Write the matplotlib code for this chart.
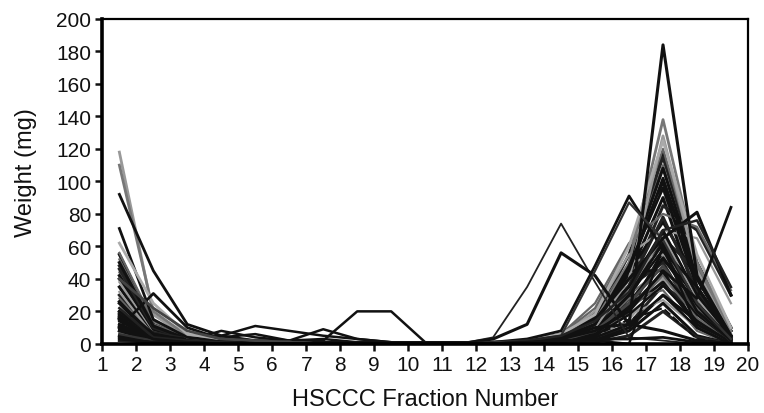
import numpy as np
import matplotlib.pyplot as plt

plt.rcParams['font.family'] = ['Liberation Sans', 'DejaVu Sans']

# fraction positions (midpoints of fractions 1..19)
fractions = [1.5, 2.5, 3.5, 4.5, 5.5, 6.5, 7.5, 8.5, 9.5, 10.5,
             11.5, 12.5, 13.5, 14.5, 15.5, 16.5, 17.5, 18.5, 19.5]

# weights (mg) per run
early_runs = [
    [118, 18, 4, 2, 1, 1, 0, 0, 0, 0, 0, 0, 1, 3, 10, 40, 128, 45, 6],
    [110, 20, 5, 2, 1, 0, 0, 0, 0, 0, 0, 1, 2, 5, 14, 50, 138, 50, 8],
    [92, 45, 12, 5, 2, 1, 1, 0, 0, 0, 0, 0, 1, 4, 12, 45, 102, 40, 5],
    [71, 15, 4, 2, 1, 0, 0, 0, 0, 0, 0, 0, 1, 3, 12, 48, 96, 35, 3],
    [62, 25, 6, 3, 1, 1, 0, 0, 0, 0, 0, 1, 2, 6, 18, 60, 125, 55, 10],
    [10, 31, 10, 3, 1, 1, 0, 0, 0, 0, 0, 0, 1, 3, 8, 30, 62, 25, 3],
    [40, 22, 8, 3, 2, 1, 0, 0, 0, 0, 0, 0, 1, 2, 8, 25, 48, 20, 2],
]
mid_runs = [
    [20, 5, 3, 5, 11, 8, 5, 3, 1, 1, 0, 0, 1, 3, 10, 30, 58, 35, 5],
    [15, 4, 2, 3, 2, 2, 9, 3, 1, 0, 0, 0, 1, 2, 6, 22, 44, 18, 2],
    [25, 6, 2, 1, 1, 1, 2, 20, 20, 1, 1, 1, 2, 5, 15, 35, 70, 30, 5],
    [12, 3, 2, 8, 4, 2, 1, 1, 0, 0, 0, 0, 1, 2, 5, 18, 36, 14, 1],
    [9, 3, 2, 4, 6, 2, 3, 1, 1, 0, 0, 0, 0, 1, 4, 12, 30, 10, 0],
]
late_runs = [
    [18, 6, 2, 1, 0, 0, 0, 0, 0, 0, 0, 0, 1, 3, 10, 12, 184, 42, 5],
    [3, 1, 1, 0, 0, 0, 0, 0, 0, 0, 0, 4, 35, 74, 38, 4, 2, 0, 0],
    [5, 2, 1, 1, 0, 0, 0, 0, 0, 0, 0, 3, 12, 56, 42, 12, 8, 2, 0],
    [8, 2, 1, 0, 0, 0, 0, 0, 0, 0, 0, 1, 3, 8, 48, 91, 58, 20, 2],
    [6, 2, 1, 0, 0, 0, 0, 0, 0, 0, 0, 1, 2, 5, 45, 87, 64, 25, 3],
    [12, 3, 1, 0, 0, 0, 0, 0, 0, 0, 0, 0, 1, 3, 8, 20, 45, 28, 84],
    [16, 4, 1, 1, 0, 0, 0, 0, 0, 0, 0, 0, 1, 4, 15, 40, 65, 81, 30],
    [22, 4, 2, 1, 0, 0, 0, 0, 0, 0, 0, 0, 2, 5, 14, 32, 70, 76, 35],
    [14, 3, 1, 0, 0, 0, 0, 0, 0, 0, 0, 0, 1, 2, 2, 0, 60, 10, 0],
    [3, 1, 1, 0, 0, 0, 0, 0, 0, 0, 0, 0, 1, 2, 3, 3, 4, 1, 0],
]
bulk_runs = [
    [55, 12, 4, 2, 1, 1, 0, 0, 0, 0, 0, 0, 1, 4, 12, 40, 118, 50, 10],
    [48, 9, 3, 1, 1, 0, 0, 0, 0, 0, 0, 1, 2, 5, 15, 55, 115, 45, 8],
    [44, 8, 3, 2, 1, 0, 0, 0, 0, 0, 0, 0, 2, 6, 18, 50, 110, 40, 5],
    [40, 6, 2, 1, 0, 0, 0, 0, 0, 0, 0, 0, 1, 3, 10, 45, 100, 35, 3],
    [38, 7, 2, 1, 0, 0, 0, 0, 0, 0, 0, 0, 1, 4, 20, 60, 95, 30, 2],
    [35, 5, 2, 1, 0, 0, 0, 0, 0, 0, 0, 0, 1, 3, 12, 42, 90, 28, 2],
    [30, 4, 2, 1, 0, 0, 0, 0, 0, 0, 0, 0, 1, 2, 8, 35, 85, 70, 30],
    [28, 5, 2, 1, 0, 0, 0, 0, 0, 0, 0, 0, 2, 6, 25, 62, 80, 72, 33],
    [25, 3, 1, 1, 0, 0, 0, 0, 0, 0, 0, 0, 1, 3, 15, 45, 75, 40, 5],
    [22, 4, 1, 1, 0, 0, 0, 0, 0, 0, 0, 0, 1, 5, 20, 55, 70, 65, 25],
    [20, 3, 1, 0, 0, 0, 0, 0, 0, 0, 0, 0, 1, 2, 10, 30, 68, 30, 3],
    [19, 2, 1, 0, 0, 0, 0, 0, 0, 0, 0, 0, 0, 2, 6, 28, 65, 45, 10],
    [18, 6, 2, 1, 0, 0, 0, 0, 0, 0, 0, 0, 1, 4, 14, 40, 60, 25, 0],
    [15, 3, 1, 0, 0, 0, 0, 0, 0, 0, 0, 0, 0, 1, 5, 20, 57, 35, 5],
    [12, 2, 1, 0, 0, 0, 0, 0, 0, 0, 0, 0, 1, 3, 12, 50, 55, 20, 2],
    [10, 2, 1, 0, 0, 0, 0, 0, 0, 0, 0, 0, 0, 2, 8, 25, 52, 30, 8],
    [8, 1, 1, 0, 0, 0, 0, 0, 0, 0, 0, 0, 1, 3, 10, 35, 50, 15, 0],
    [14, 3, 1, 0, 0, 0, 0, 0, 0, 0, 0, 0, 0, 2, 7, 30, 47, 22, 3],
    [26, 4, 2, 1, 0, 0, 0, 0, 0, 0, 0, 0, 1, 4, 18, 45, 45, 10, 0],
    [32, 5, 2, 1, 0, 0, 0, 0, 0, 0, 0, 0, 0, 1, 4, 15, 40, 18, 2],
    [42, 9, 3, 1, 0, 0, 0, 0, 0, 0, 0, 0, 1, 2, 6, 22, 38, 12, 0],
    [46, 10, 3, 1, 0, 0, 0, 0, 0, 0, 0, 0, 0, 1, 3, 12, 36, 20, 4],
    [52, 12, 4, 2, 1, 0, 0, 0, 0, 0, 0, 0, 1, 3, 8, 28, 33, 8, 0],
    [16, 3, 1, 0, 0, 0, 0, 0, 0, 0, 0, 0, 0, 1, 2, 10, 30, 14, 1],
    [6, 1, 1, 0, 0, 0, 0, 0, 0, 0, 0, 0, 0, 1, 5, 18, 27, 10, 0],
    [4, 1, 1, 0, 0, 0, 0, 0, 0, 0, 0, 0, 0, 0, 2, 8, 25, 5, 0],
    [2, 1, 0, 0, 0, 0, 0, 0, 0, 0, 0, 0, 0, 0, 1, 5, 20, 4, 0],
    [56, 14, 4, 2, 1, 0, 0, 0, 0, 0, 0, 1, 2, 6, 22, 60, 120, 48, 6],
    [50, 11, 3, 1, 1, 0, 0, 0, 0, 0, 0, 0, 1, 4, 16, 48, 108, 42, 4],
    [13, 5, 2, 1, 0, 0, 0, 0, 0, 0, 0, 0, 1, 3, 9, 33, 66, 28, 2],
    [11, 4, 1, 1, 0, 0, 0, 0, 0, 0, 0, 0, 0, 2, 7, 24, 53, 24, 1],
    [17, 7, 3, 1, 0, 0, 0, 0, 0, 0, 0, 0, 1, 3, 11, 36, 78, 33, 4],
    [7, 3, 1, 0, 0, 0, 0, 0, 0, 0, 0, 0, 0, 1, 6, 20, 42, 16, 1],
]
dashed_run = [3, 1, 1, 0, 0, 0, 0, 0, 0, 0, 0, 0, 0, 1, 5, 15, 22, 3, 0]

yticks = list(range(0, 201, 20))
xticks = list(range(1, 21))

greys = ['#111111', '#222222', '#666666', '#111111', '#999999']

fig = plt.figure(figsize=(7.64, 4.14), dpi=100)
ax = fig.add_axes([0.134, 0.167, 0.845, 0.785])

for i, run in enumerate(bulk_runs):
    c = greys[i % len(greys)]
    lw = 2.2 if c in ('#111111', '#222222') else 1.6
    ax.plot(fractions, run, color=c, lw=lw)
for run in mid_runs:
    ax.plot(fractions, run, color='#111111', lw=1.8)
early_cols = ['#999999', '#777777', '#111111', '#111111', '#aaaaaa', '#111111', '#444444']
for run, c in zip(early_runs, early_cols):
    ax.plot(fractions, run, color=c, lw=2.0)
late_cols = ['#111111', '#222222', '#111111', '#111111', '#333333',
             '#111111', '#111111', '#222222', '#111111', '#111111']
late_lws = [2.2, 1.3, 2.2, 2.0, 1.6, 2.0, 2.2, 1.8, 1.8, 2.0]
for run, c, lw in zip(late_runs, late_cols, late_lws):
    ax.plot(fractions, run, color=c, lw=lw)
ax.plot(fractions, dashed_run, color='#111111', lw=1.5, ls='--')

ax.set_xlim(1, 20)
ax.set_ylim(0, 200)
ax.set_xticks(xticks)
ax.set_yticks(yticks)
ax.tick_params(labelsize=15, direction='out', length=5, width=1.8, colors='#111111', pad=3)
for side in ['left', 'bottom']:
    ax.spines[side].set_linewidth(2.6)
for side in ['top', 'right']:
    ax.spines[side].set_linewidth(1.6)
ax.set_xlabel('HSCCC Fraction Number', fontsize=17, labelpad=10, color='#111111')
ax.set_ylabel('Weight (mg)', fontsize=17, color='#111111')
ax.yaxis.set_label_coords(-0.102, 0.53)

fig.savefig('out.png', dpi=100)
